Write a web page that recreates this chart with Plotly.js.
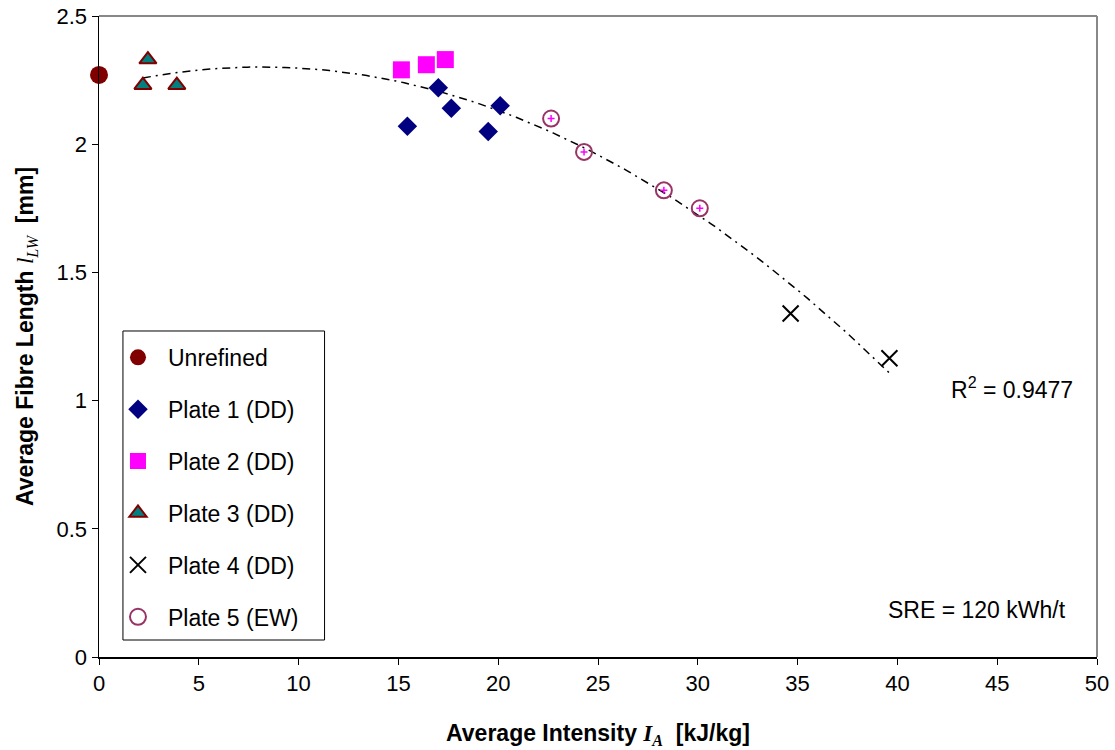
<!DOCTYPE html>
<html>
<head>
<meta charset="utf-8">
<script src="https://cdn.plot.ly/plotly-3.0.1.min.js"></script>
<style>html,body{margin:0;padding:0;background:#fff;}#chart{width:1115px;height:750px;}</style>
</head>
<body>
<div id="chart"></div>
<script>
// ---- data ----
const unrefinedX = [0];
const unrefinedY = [2.27];
const plate1X = [15.45, 17.0, 17.65, 19.5, 20.1];
const plate1Y = [2.07, 2.22, 2.14, 2.05, 2.15];
const plate2X = [15.15, 16.4, 17.35];
const plate2Y = [2.29, 2.31, 2.33];
const plate3X = [2.2, 2.45, 3.9];
const plate3Y = [2.23, 2.33, 2.23];
const plate4X = [34.65, 39.6];
const plate4Y = [1.34, 1.165];
const plate5X = [22.65, 24.3, 28.3, 30.1];
const plate5Y = [2.10, 1.97, 1.82, 1.75];
const xTicks = [0, 5, 10, 15, 20, 25, 30, 35, 40, 45, 50];
const yTicks = [0, 0.5, 1, 1.5, 2, 2.5];
const r2Label = "R<sup>2</sup> = 0.9477";
const sreLabel = "SRE = 120 kWh/t";

// ---- polynomial (order 2) trend line fitted to the refined plates ----
function quadFit(xs, ys) {
  let S = [0,0,0,0,0], T = [0,0,0];
  for (let i = 0; i < xs.length; i++) {
    let p = 1;
    for (let k = 0; k < 5; k++) { S[k] += p; if (k < 3) T[k] += p * ys[i]; p *= xs[i]; }
  }
  const A = [[S[0],S[1],S[2],T[0]],[S[1],S[2],S[3],T[1]],[S[2],S[3],S[4],T[2]]];
  for (let i = 0; i < 3; i++) {
    for (let j = i+1; j < 3; j++) {
      const f = A[j][i] / A[i][i];
      for (let k = i; k < 4; k++) A[j][k] -= f * A[i][k];
    }
  }
  const c = [0,0,0];
  for (let i = 2; i >= 0; i--) {
    let s = A[i][3];
    for (let k = i+1; k < 3; k++) s -= A[i][k] * c[k];
    c[i] = s / A[i][i];
  }
  return c;
}
const fitX = [].concat(plate1X, plate2X, plate3X, plate4X, plate5X);
const fitY = [].concat(plate1Y, plate2Y, plate3Y, plate4Y, plate5Y);
const coef = quadFit(fitX, fitY);
const xMin = Math.min.apply(null, fitX), xMax = Math.max.apply(null, fitX);
const trendX = [], trendY = [];
for (let i = 0; i <= 100; i++) {
  const x = xMin + (xMax - xMin) * i / 100;
  trendX.push(x);
  trendY.push(coef[0] + coef[1] * x + coef[2] * x * x);
}

const FONT = "Liberation Sans, Arial, sans-serif";
const SERIF = "Liberation Serif,Times New Roman,serif";

const traces = [
  {x: trendX, y: trendY, mode: "lines", showlegend: false, hoverinfo: "skip",
   line: {color: "#000", width: 1.5, dash: "8px,5px,2px,5px"}},
  {x: unrefinedX, y: unrefinedY, mode: "markers", name: "Unrefined", legendgroup: "a", cliponaxis: false,
   marker: {symbol: "circle", size: 18, color: "#800000"}},
  {x: plate1X, y: plate1Y, mode: "markers", name: "Plate 1 (DD)", legendgroup: "b",
   marker: {symbol: "diamond", size: 15, color: "#000080"}},
  {x: plate2X, y: plate2Y, mode: "markers", name: "Plate 2 (DD)", legendgroup: "c",
   marker: {symbol: "square", size: 17, color: "#FF00FF"}},
  {x: plate3X, y: plate3Y, mode: "markers", name: "Plate 3 (DD)", legendgroup: "d",
   marker: {symbol: "triangle-up", size: 15, color: "#008080", line: {color: "#800000", width: 2}}},
  {x: plate4X, y: plate4Y, mode: "markers", name: "Plate 4 (DD)", legendgroup: "e",
   marker: {symbol: "x-thin", size: 16, color: "#000", line: {color: "#000", width: 2}}},
  {x: plate5X, y: plate5Y, mode: "markers", name: "Plate 5 (EW)", legendgroup: "f",
   marker: {symbol: "circle-open", size: 16, color: "#993366", line: {color: "#993366", width: 2}}},
  {x: plate5X, y: plate5Y, mode: "markers", showlegend: false, hoverinfo: "skip",
   marker: {symbol: "cross-thin", size: 5, color: "#FF00FF", line: {color: "#FF00FF", width: 1.5}}}
];

const layout = {
  width: 1115, height: 750,
  margin: {l: 99, r: 18, t: 16, b: 93},
  paper_bgcolor: "#fff", plot_bgcolor: "#fff",
  font: {family: FONT, size: 23, color: "#000"},
  showlegend: true,
  legend: {x: 0.009, y: 0.501, xanchor: "left", yanchor: "top",
           bgcolor: "rgba(0,0,0,0)", borderwidth: 0, itemwidth: 50,
           traceorder: "grouped", tracegroupgap: 19,
           font: {family: FONT, size: 23, color: "#000"}},
  xaxis: {range: [0, 50], tickvals: xTicks, ticks: "outside", ticklen: 6, tickcolor: "#000",
          showline: true, linecolor: "#000", linewidth: 1.5, showgrid: false, zeroline: false,
          tickfont: {family: FONT, size: 22}, fixedrange: true,
          title: {text: "<b>Average Intensity </b><span style=\"font-family:" + SERIF + "\"><b><i>I</i></b><sub><i><b>A</b></i></sub></span><b>  [kJ/kg]</b>",
                  font: {family: FONT, size: 23}, standoff: 30}},
  yaxis: {range: [0, 2.5], tickvals: yTicks, ticks: "outside", ticklen: 6, tickcolor: "#000",
          showline: true, linecolor: "#000", linewidth: 1.5, showgrid: false, zeroline: false,
          tickfont: {family: FONT, size: 22}, fixedrange: true,
          title: {text: "<b>Average Fibre Length </b><span style=\"font-family:" + SERIF + "\"><i>l</i><sub><i>LW</i></sub></span><b>  [mm]</b>",
                  font: {family: FONT, size: 23}, standoff: 16}},
  shapes: [
    {type: "line", xref: "paper", yref: "paper", x0: 0, x1: 1, y0: 1, y1: 1, line: {color: "#888", width: 2}},
    {type: "line", xref: "paper", yref: "paper", x0: 1, x1: 1, y0: 0, y1: 1, line: {color: "#888", width: 2}},
    {type: "rect", xref: "paper", yref: "paper", x0: 0.024, x1: 0.226, y0: 0.0265, y1: 0.5086,
     line: {color: "#000", width: 1}, fillcolor: "rgba(0,0,0,0)"}
  ],
  annotations: [
    {xref: "paper", yref: "paper", x: 0.9775, y: 0.419, xanchor: "right", yanchor: "middle",
     text: r2Label, showarrow: false, font: {family: FONT, size: 23}},
    {xref: "paper", yref: "paper", x: 0.971, y: 0.073, xanchor: "right", yanchor: "middle",
     text: sreLabel, showarrow: false, font: {family: FONT, size: 23}}
  ]
};

Plotly.newPlot("chart", traces, layout, {displayModeBar: false, staticPlot: true});
</script>
</body>
</html>
